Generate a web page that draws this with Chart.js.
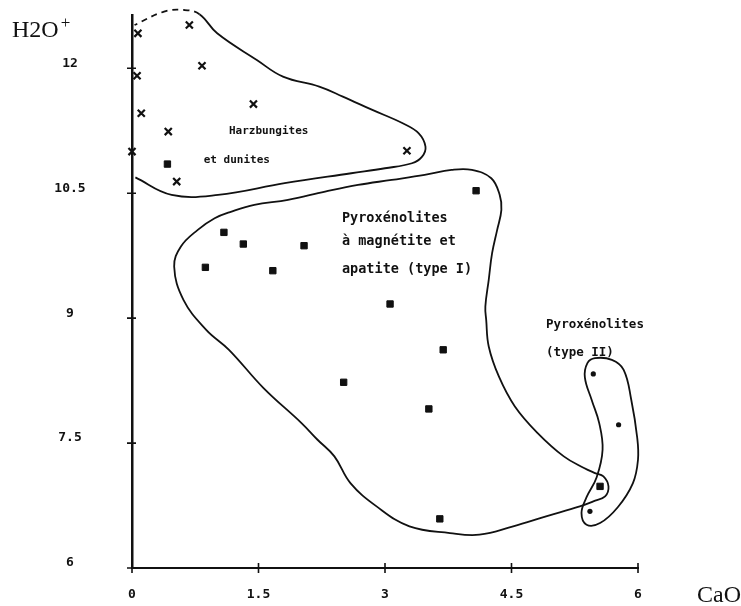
<!DOCTYPE html>
<html>
<head>
<meta charset="utf-8">
<script src="https://cdn.jsdelivr.net/npm/chart.js@4.4.1/dist/chart.umd.min.js"></script>
<style>
  html, body { margin: 0; padding: 0; background: #fff; }
  #plot { display: block; }
</style>
</head>
<body>
<canvas id="plot" width="741" height="606"></canvas>
<script>
// CaO (x) against H2O+ (y), three rock groups with hand-drawn envelopes
const xTicks = [0, 1.5, 3, 4.5, 6];
const yTicks = [6, 7.5, 9, 10.5, 12];

// Harzburgites et dunites
const harzCaO = [0.07, 0.68, 0.06, 0.83, 0.11, 1.44, 0.43, 0.00, 0.53, 3.26];
const harzH2O = [12.42, 12.52, 11.91, 12.03, 11.46, 11.57, 11.24, 11.00, 10.64, 11.01];

// Pyroxénolites à magnétite et apatite (type I)
const type1CaO = [0.42, 4.08, 1.09, 1.32, 2.04, 0.87, 1.67, 3.06, 3.69, 2.51, 3.52, 3.65, 5.55];
const type1H2O = [10.85, 10.53, 10.03, 9.89, 9.87, 9.61, 9.57, 9.17, 8.62, 8.23, 7.91, 6.59, 6.98];

// Pyroxénolites (type II)
const type2CaO = [5.47, 5.77, 5.43];
const type2H2O = [8.33, 7.72, 6.68];

// envelope outlines (open curve for the harzburgites, closed loops for the others)
const harzEnvCaO = [0.04, 0.47, 1.02, 1.81, 2.60, 3.00, 3.32, 3.44, 3.48, 3.40, 3.21, 2.85, 2.50, 2.22, 1.79, 1.48, 1.01, 0.80, 0.62, 0.38, 0.03];
const harzEnvH2O = [10.69, 10.48, 10.48, 10.62, 10.74, 10.80, 10.86, 10.94, 11.06, 11.22, 11.34, 11.50, 11.66, 11.78, 11.90, 12.10, 12.42, 12.65, 12.70, 12.68, 12.52];
const harzDashFrom = 17; // the top-left arc is only dotted in

const type1EnvCaO = [0.50, 0.58, 0.78, 0.98, 1.18, 1.45, 1.85, 2.29, 2.68, 3.08, 3.47, 3.79, 4.03, 4.26, 4.36, 4.38, 4.33, 4.27, 4.23, 4.19, 4.20, 4.23, 4.35, 4.54, 4.81, 5.12, 5.36, 5.49, 5.59, 5.65, 5.61, 5.47, 5.31, 4.91, 4.52, 4.12, 3.77, 3.29, 2.90, 2.59, 2.40, 2.20, 2.01, 1.56, 1.15, 0.88, 0.61];
const type1EnvH2O = [9.62, 9.86, 10.06, 10.20, 10.28, 10.36, 10.42, 10.52, 10.60, 10.66, 10.72, 10.78, 10.78, 10.68, 10.48, 10.30, 10.06, 9.78, 9.46, 9.14, 8.98, 8.66, 8.30, 7.94, 7.62, 7.34, 7.20, 7.14, 7.10, 6.98, 6.86, 6.80, 6.74, 6.62, 6.50, 6.40, 6.42, 6.50, 6.74, 7.02, 7.34, 7.54, 7.74, 8.16, 8.62, 8.86, 9.22];

const type2EnvCaO = [5.40, 5.49, 5.69, 5.83, 5.92, 5.99, 6.00, 5.94, 5.76, 5.55, 5.39, 5.33, 5.39, 5.51, 5.58, 5.54, 5.45, 5.37];
const type2EnvH2O = [8.46, 8.52, 8.50, 8.38, 8.02, 7.57, 7.30, 7.02, 6.73, 6.54, 6.52, 6.66, 6.85, 7.09, 7.42, 7.74, 8.02, 8.29];

// group names, anchored at their left edge
const regionNotes = [
    { text: 'Harzbungites', x: 1.15, y: 11.24, size: 11 },
    { text: 'et dunites', x: 0.85, y: 10.90, size: 11 },
    { text: 'Pyroxénolites', x: 2.49, y: 10.20, size: 13.5 },
    { text: 'à magnétite et', x: 2.49, y: 9.92, size: 13.5 },
    { text: 'apatite (type I)', x: 2.49, y: 9.58, size: 13.5 },
    { text: 'Pyroxénolites', x: 4.91, y: 8.92, size: 12.5 },
    { text: '(type II)', x: 4.91, y: 8.59, size: 12.5 }
];

const ink = '#111';
const tickFont = 'bold 13px "DejaVu Sans Mono"';

function toPoints(xs, ys) {
    return xs.map((v, i) => ({ x: v, y: ys[i] }));
}

// pad a loop with its neighbours so the spline closes smoothly
function closedLoop(xs, ys) {
    const pts = toPoints(xs, ys);
    return [pts[pts.length - 1], ...pts, pts[0], pts[1]];
}

function outline(data, extra) {
    return Object.assign({
        data: data,
        showLine: true,
        fill: false,
        borderColor: ink,
        borderWidth: 1.8,
        tension: 0.4,
        pointRadius: 0,
        pointHoverRadius: 0,
        clip: false
    }, extra || {});
}

function loopOutline(xs, ys) {
    const data = closedLoop(xs, ys);
    const last = data.length - 1;
    return outline(data, {
        segment: {
            borderColor: ctx => (ctx.p0DataIndex === 0 || ctx.p1DataIndex === last) ? 'rgba(0,0,0,0)' : undefined
        }
    });
}

const decor = {
    id: 'decor',
    afterDraw(chart) {
        const { ctx, scales: { x, y } } = chart;
        ctx.save();
        ctx.strokeStyle = ink;
        ctx.lineWidth = 1.6;
        ctx.beginPath();
        xTicks.forEach(v => {
            const px = x.getPixelForValue(v);
            ctx.moveTo(px, y.bottom - 5);
            ctx.lineTo(px, y.bottom + 5);
        });
        yTicks.forEach(v => {
            const py = y.getPixelForValue(v);
            ctx.moveTo(x.left - 5, py);
            ctx.lineTo(x.left + 4, py);
        });
        ctx.stroke();

        ctx.fillStyle = ink;

        // H2O+ tick labels, centred in the gutter and sitting a little above their ticks
        ctx.font = tickFont;
        ctx.textAlign = 'center';
        ctx.textBaseline = 'middle';
        yTicks.forEach(v => {
            ctx.fillText(String(v), x.left - 62, y.getPixelForValue(v) - 5);
        });

        ctx.textAlign = 'left';
        regionNotes.forEach(n => {
            ctx.font = 'bold ' + n.size + 'px "DejaVu Sans Mono"';
            ctx.fillText(n.text, x.getPixelForValue(n.x), y.getPixelForValue(n.y));
        });

        // axis names
        ctx.textBaseline = 'alphabetic';
        ctx.font = '24px "Liberation Serif"';
        ctx.fillText('H2O', 12, 37);
        const w = ctx.measureText('H2O').width;
        ctx.font = '17px "Liberation Serif"';
        ctx.fillText('+', 12 + w + 2, 28);
        ctx.font = '24px "Liberation Serif"';
        ctx.fillText('CaO', x.right + 59, y.bottom + 34);
        ctx.restore();
    }
};

new Chart(document.getElementById('plot'), {
    type: 'scatter',
    data: {
        datasets: [
            {
                label: 'Harzburgites et dunites',
                data: toPoints(harzCaO, harzH2O),
                pointStyle: 'crossRot',
                pointRadius: 5,
                pointBorderWidth: 2.2,
                borderColor: ink,
                backgroundColor: ink,
                clip: false
            },
            {
                label: 'Pyroxénolites type I',
                data: toPoints(type1CaO, type1H2O),
                pointStyle: 'rect',
                pointRadius: 4.5,
                pointBorderWidth: 1,
                borderColor: ink,
                backgroundColor: ink,
                clip: false
            },
            {
                label: 'Pyroxénolites type II',
                data: toPoints(type2CaO, type2H2O),
                pointStyle: 'circle',
                pointRadius: 2.6,
                pointBorderWidth: 0,
                borderColor: ink,
                backgroundColor: ink,
                clip: false
            },
            outline(toPoints(harzEnvCaO, harzEnvH2O), {
                segment: {
                    borderDash: ctx => ctx.p0DataIndex >= harzDashFrom ? [6, 5] : undefined
                }
            }),
            loopOutline(type1EnvCaO, type1EnvH2O),
            loopOutline(type2EnvCaO, type2EnvH2O)
        ]
    },
    options: {
        responsive: false,
        animation: false,
        layout: {
            padding: { top: 15, right: 103, bottom: 0, left: 0 }
        },
        elements: {
            line: { capBezierPoints: false }
        },
        scales: {
            x: {
                type: 'linear',
                min: 0,
                max: 6,
                afterFit: s => { s.height = 38; },
                afterBuildTicks: s => { s.ticks = xTicks.map(v => ({ value: v })); },
                grid: { display: false, drawTicks: false },
                border: { display: true, color: ink, width: 2 },
                ticks: {
                    color: ink,
                    padding: 19,
                    maxRotation: 0,
                    font: { family: 'DejaVu Sans Mono', size: 13, weight: 'bold' },
                    callback: v => String(v)
                }
            },
            y: {
                type: 'linear',
                min: 6,
                max: 12.64,
                afterFit: s => { s.width = 132; },
                afterBuildTicks: s => { s.ticks = yTicks.map(v => ({ value: v })); },
                grid: { display: false, drawTicks: false },
                border: { display: true, color: ink, width: 2.5 },
                ticks: { display: false }
            }
        },
        plugins: {
            legend: { display: false },
            tooltip: { enabled: false }
        }
    },
    plugins: [decor]
});
</script>
</body>
</html>
